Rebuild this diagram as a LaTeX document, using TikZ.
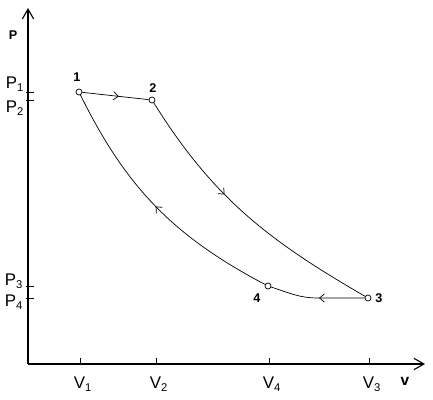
\documentclass[tikz,border=0pt]{standalone}
\usepackage{fontspec}
\setmainfont{Liberation Sans}
\usetikzlibrary{arrows.meta,decorations.markings}

\begin{document}
\begin{tikzpicture}[%
      x=0.025cm, y=0.025cm,
      axis/.style={line width=0.8pt, -{Straight Barb[length=7pt,width=8pt]}},
      state/.style={circle, draw, line width=0.5pt, minimum size=0.15cm, inner sep=0pt},
      process/.style={line width=0.5pt},
      midarrow/.style={postaction={decorate}, decoration={markings,
          mark=at position #1 with {\arrow{Straight Barb[length=3.5pt,width=6pt]}}}},
      ticklabel/.style={font=\fontsize{12}{14}\selectfont},
      numlabel/.style={font=\bfseries\fontsize{9}{10}\selectfont},
      ]
      \useasboundingbox (0,0) rectangle (433,400);

      % axes
      \coordinate (origin) at (28,36);
      \coordinate (ptop) at (28,392);
      \coordinate (vend) at (425,36);
      \draw[axis] (origin) -- (ptop);
      \draw[axis] (origin) -- (vend);
      \node[numlabel] (paxis) at (13,365) {P};
      \node[font=\bfseries\fontsize{11}{12}\selectfont] (vaxis) at (405,19) {v};

      % ticks on the P axis
      \foreach \y in {308,300,114,102}
        \draw[process] (26,\y) -- (34,\y);
      \node[ticklabel] (lp1) at (15,316) {P\textsubscript{1}};
      \node[ticklabel] (lp2) at (15,292) {P\textsubscript{2}};
      \node[ticklabel] (lp3) at (14,119) {P\textsubscript{3}};
      \node[ticklabel] (lp4) at (14,98) {P\textsubscript{4}};

      % ticks on the V axis
      \foreach \x in {80,156,269,369}
        \draw[process] (\x,35) -- (\x,42);
      \node[ticklabel] (lv1) at (83,16) {V\textsubscript{1}};
      \node[ticklabel] (lv2) at (159,16) {V\textsubscript{2}};
      \node[ticklabel] (lv4) at (272,16) {V\textsubscript{4}};
      \node[ticklabel] (lv3) at (372,16) {V\textsubscript{3}};

      % states
      \node[state] (s1) at (79,308) {};
      \node[state] (s2) at (152,300) {};
      \node[state] (s3) at (368,102) {};
      \node[state] (s4) at (268,114) {};
      \coordinate (m34) at (318,102);

      \node[numlabel] (n1) at (77,323) {1};
      \node[numlabel] (n2) at (153,312) {2};
      \node[numlabel] (n3) at (379,102) {3};
      \node[numlabel] (n4) at (257,102) {4};

      % cycle
      \draw[process, midarrow=0.55] (s1) -- (s2);
      \draw[process, midarrow=0.4] (s2) to[out=-58,in=150] (s3);
      \draw[process, midarrow=0.48] (s3) -- (m34) to[out=180,in=-18] (s4);
      \draw[process, midarrow=0.5] (s4) to[bend left=18] (s1);
\end{tikzpicture}
\end{document}
